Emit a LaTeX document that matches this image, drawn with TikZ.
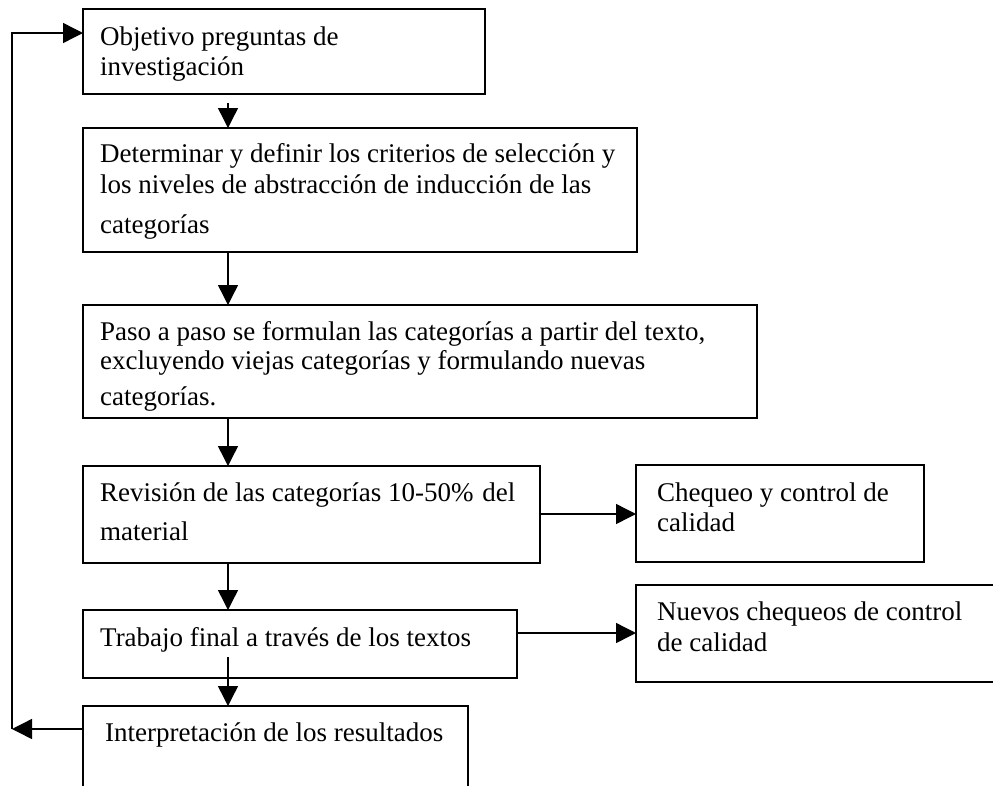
\documentclass[tikz,border=0pt]{standalone}
\usepackage{fontspec}
\setmainfont{Liberation Serif}
\usetikzlibrary{arrows.meta,calc}
\begin{document}
\begin{tikzpicture}[x=1pt,y=-1pt,
  box/.style={draw=black,line width=1.4pt,inner sep=0pt,outer sep=0pt,anchor=north west,fill=none},
  txt/.style={anchor=base west,inner sep=0pt,font=\fontsize{27}{31}\selectfont},
  arr/.style={draw=black,line width=1.4pt,-{Triangle[width=20pt,length=20pt]}}]
\useasboundingbox (0,0) rectangle (993,785);
\clip (0,0) rectangle (993,785);
% boxes
\node[box,minimum width=402,minimum height=85] (b1) at (83,9) {};
\node[box,minimum width=554,minimum height=124] (b2) at (83,128) {};
\node[box,minimum width=674,minimum height=113] (b3) at (83,305) {};
\node[box,minimum width=457,minimum height=97] (b4) at (83,466) {};
\node[box,minimum width=288,minimum height=97] (c1) at (636,465) {};
\node[box,minimum width=434,minimum height=68] (b5) at (83,610) {};
\node[box,minimum width=380,minimum height=97] (c2) at (636,585) {};
\node[box,minimum width=385,minimum height=110] (b6) at (83,706) {};
% texts
\node[txt] (t1a) at (100,45) {Objetivo preguntas de};
\node[txt] (t1b) at (100,75) {investigación};
\node[txt] (t2a) at (100,162) {Determinar y definir los criterios de selección y};
\node[txt] (t2b) at (100,193) {los niveles de abstracción de inducción de las};
\node[txt] (t2c) at (100,233) {categorías};
\node[txt] (t3a) at (100,340) {Paso a paso se formulan las categorías a partir del texto,};
\node[txt] (t3b) at (100,369) {excluyendo viejas categorías y formulando nuevas};
\node[txt] (t3c) at (100,405) {categorías.};
\node[txt] (t4a) at (100,501) {Revisión de las categorías 10-50\%\hspace{2pt} del};
\node[txt] (t4b) at (100,540) {material};
\node[txt] (tc1a) at (657,501) {Chequeo y control de};
\node[txt] (tc1b) at (657,531) {calidad};
\node[txt] (t5) at (100,646) {Trabajo final a través de los textos};
\node[txt] (tc2a) at (657,620) {Nuevos chequeos de control};
\node[txt] (tc2b) at (657,651) {de calidad};
\node[txt] (t6) at (105,741) {Interpretación de los resultados};
% vertical arrows
\draw[arr] ($(b1.south west)+(145,9)$) -- ($(b2.north west)+(145,0)$);
\draw[arr] ($(b2.south west)+(145,0)$) -- ($(b3.north west)+(145,0)$);
\draw[arr] ($(b3.south west)+(145,0)$) -- ($(b4.north west)+(145,0)$);
\draw[arr] ($(b4.south west)+(145,0)$) -- ($(b5.north west)+(145,0)$);
\draw[arr] ($(b5.south west)+(145,-21)$) -- ($(b6.north west)+(145,0)$);
% horizontal arrows
\draw[arr] (b4.east |- 0,514) -- (c1.west |- 0,514);
\draw[arr] (b5.east |- 0,633) -- (c2.west |- 0,633);
% feedback loop
\coordinate (lb) at (12,729);
\coordinate (lt) at (12,33);
\draw[arr] (b6.west |- lb) -- (lb);
\draw[arr] (lb) -- (lt) -- (b1.west |- lt);
\end{tikzpicture}
\end{document}
